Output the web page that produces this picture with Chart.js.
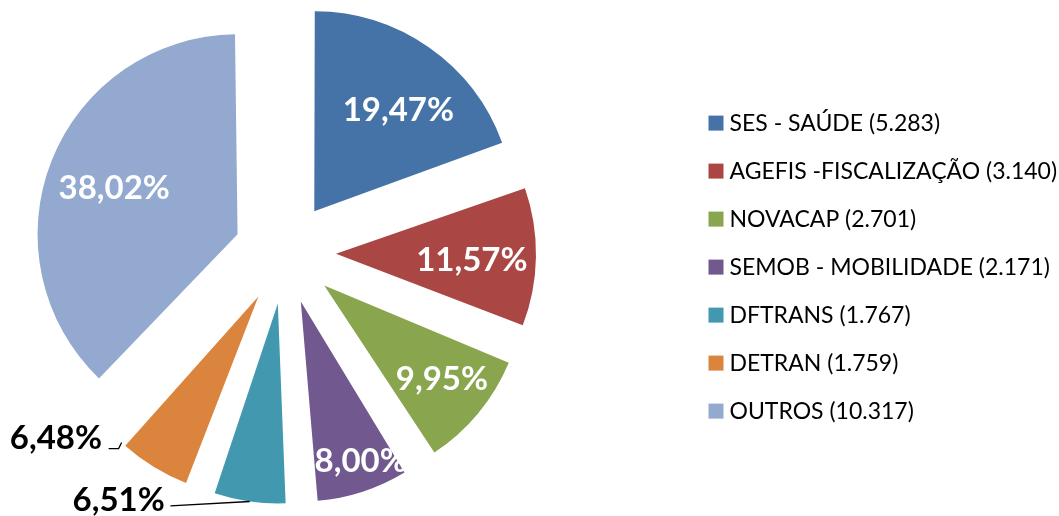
<!DOCTYPE html>
<html>
<head>
<meta charset="utf-8">
<script src="https://cdn.jsdelivr.net/npm/chart.js@4.4.1/dist/chart.umd.min.js"></script>
<style>
  html, body { margin: 0; padding: 0; background: #ffffff; overflow: hidden; }
  #wrap { width: 1059px; height: 516px; position: relative; overflow: hidden; }
  #c { position: absolute; left: -119px; top: 0; }
</style>
</head>
<body>
<div id="wrap"><canvas id="c" width="1178" height="516"></canvas></div>
<script>
// ---- data ----
const categories = ['SES - SAÚDE', 'AGEFIS -FISCALIZAÇÃO', 'NOVACAP', 'SEMOB - MOBILIDADE', 'DFTRANS', 'DETRAN', 'OUTROS'];
const counts = [5283, 3140, 2701, 2171, 1767, 1759, 10317];
const colors = ['#4572A7', '#AA4643', '#89A54E', '#71588F', '#4198AF', '#DB843D', '#93A9CF'];

// ---- helpers ----
const fmtThousands = v => String(v).replace(/\B(?=(\d{3})+(?!\d))/g, '.');
const total = counts.reduce((a, b) => a + b, 0);
const pctText = v => (v / total * 100).toFixed(2).replace('.', ',') + '%';
const legendLabels = categories.map((c, i) => c + ' (' + fmtThousands(counts[i]) + ')');

// label placement (style only): radial fraction / angle tweak, or outside with leader
const labelPlacement = [
  { r: 0.66, da: 4.5 },
  { r: 0.68, da: 1.5 },
  { r: 0.75, da: -1.3 },
  { r: 0.85, da: -2.6 },
  { outside: true, anchor: 'mid', dx: -131, dy: -2.7, leader: [[-79.3, 4.3]] },
  { outside: true, anchor: 'end', dx: -65.7, dy: -4.8, leader: [[-13, 6.2], [-3, 6.2]] },
  { r: 0.66, da: -0.7 }
];

const EXPLODE = 204; // Chart.js translates arcs by offset/4
const RADIUS = 200;

// keep all exploded slices at equal radius (Chart.js enlarges small exploded arcs)
const evenRadius = {
  id: 'evenRadius',
  afterDatasetUpdate(chart, args) {
    const meta = args.meta;
    const R = meta.controller.outerRadius;
    meta.data.forEach(arc => {
      const off = ((arc.options && arc.options.offset) || 0) / 4;
      const fix = 1 - Math.sin(Math.min(Math.PI, arc.circumference));
      arc.outerRadius = R - off * fix;
    });
  }
};

const pieLabels = {
  id: 'pieLabels',
  afterDatasetsDraw(chart) {
    const ctx = chart.ctx;
    const meta = chart.getDatasetMeta(0);
    const R = meta.controller.outerRadius;
    const size = 33;
    const capH = size * 0.7165;
    ctx.save();
    ctx.font = 'bold ' + size + 'px Lato';
    ctx.textAlign = 'center';
    ctx.textBaseline = 'alphabetic';
    meta.data.forEach((arc, i) => {
      const p = labelPlacement[i];
      const off = ((arc.options && arc.options.offset) || 0) / 4;
      const mid = (arc.startAngle + arc.endAngle) / 2;
      const vx = arc.x + Math.cos(mid) * off;
      const vy = arc.y + Math.sin(mid) * off;
      const text = pctText(counts[i]);
      if (!p.outside) {
        const a = mid + p.da * Math.PI / 180;
        const cx = vx + Math.cos(a) * R * p.r;
        const cy = vy + Math.sin(a) * R * p.r;
        ctx.fillStyle = '#ffffff';
        ctx.fillText(text, cx, cy + capH / 2);
      } else {
        const ang = p.anchor === 'end' ? arc.endAngle : mid;
        const ax = vx + Math.cos(ang) * R;
        const ay = vy + Math.sin(ang) * R;
        ctx.strokeStyle = '#000000';
        ctx.lineWidth = 1.3;
        ctx.beginPath();
        p.leader.forEach((pt, k) => {
          if (k === 0) ctx.moveTo(ax + pt[0], ay + pt[1]);
          else ctx.lineTo(ax + pt[0], ay + pt[1]);
        });
        ctx.lineTo(ax, ay);
        ctx.stroke();
        ctx.fillStyle = '#000000';
        ctx.fillText(text, ax + p.dx, ay + p.dy + capH / 2);
      }
    });
    ctx.restore();
  }
};

new Chart(document.getElementById('c'), {
  type: 'pie',
  data: {
    labels: legendLabels,
    datasets: [{
      data: counts,
      backgroundColor: colors,
      borderWidth: 0,
      offset: EXPLODE,
      hoverOffset: EXPLODE,
      radius: RADIUS,
      clip: false
    }]
  },
  options: {
    responsive: false,
    animation: false,
    devicePixelRatio: 1,
    radius: RADIUS,
    events: [],
    layout: { padding: { left: 0, right: 0, top: 0, bottom: 10 } },
    plugins: {
      tooltip: { enabled: false },
      title: { display: false },
      legend: {
        position: 'right',
        align: 'center',
        maxWidth: 370,
        title: { display: true, text: ' ', font: { size: 1 }, padding: { top: 0, bottom: 27 } },
        labels: {
          usePointStyle: true,
          pointStyle: 'rect',
          boxWidth: 4,
          boxHeight: 15,
          padding: 25,
          color: '#000000',
          font: { family: 'Lato', size: 23 }
        }
      }
    }
  },
  plugins: [evenRadius, pieLabels]
});
</script>
</body>
</html>
